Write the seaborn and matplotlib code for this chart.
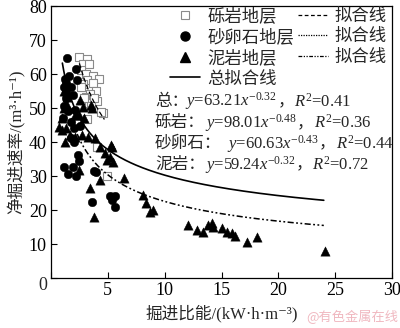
import numpy as np
import pandas as pd
import matplotlib
matplotlib.use("Agg")
import matplotlib.pyplot as plt
from matplotlib.lines import Line2D
import seaborn as sns

# ---------------- data ----------------
gravel_x = [2.49, 3.19, 2.84, 3.37, 2.67, 3.08, 3.67, 4.19, 3.19, 2.84, 3.67, 3.96, 3.43, 3.08,
            3.72, 3.31, 4.02, 3.55, 4.54, 2.67, 3.14, 4.07, 4.90, 2.93, 3.81, 4.40]
gravel_y = [64.9, 64.3, 62.9, 62.9, 61.2, 60.0, 59.4, 58.4, 58.2, 57.1, 57.3, 55.1, 54.1, 53.1,
            52.7, 51.6, 52.1, 50.6, 48.6, 56.1, 46.9, 38.6, 30.0, 52.9, 52.9, 48.9]

sand_x = [1.38, 2.20, 1.32, 2.31, 1.17, 1.32, 1.76, 1.91, 1.32, 1.10, 1.50, 1.03, 1.76, 2.05,
          2.11, 1.76, 2.05, 2.55, 2.35, 1.17, 1.52, 1.91, 2.20, 2.49, 3.81, 3.58, 5.19, 5.63,
          5.34, 5.63, 3.96, 1.20, 1.60]
sand_y = [64.6, 61.4, 57.3, 58.2, 56.3, 54.8, 56.3, 53.8, 52.9, 50.5, 49.0, 47.0, 46.0, 44.0,
          49.4, 41.1, 40.1, 44.7, 36.2, 32.7, 30.6, 32.6, 30.0, 34.5, 31.5, 22.3, 24.1, 24.1,
          22.9, 21.0, 31.3, 58.5, 59.5]

mud_x = [0.73, 0.94, 0.94, 1.17, 1.23, 1.32, 1.38, 1.67, 2.11, 2.11, 2.49, 2.55, 2.84, 2.93,
         3.52, 3.58, 2.70, 3.28, 3.87, 4.31, 4.75, 5.34, 5.28, 4.90, 5.48, 5.19, 2.49, 3.43,
         4.31, 3.81, 6.42, 8.12, 8.33, 8.71, 9.00, 12.08, 12.81, 13.40, 13.84, 14.13, 14.27,
         15.01, 15.50, 15.90, 16.18, 17.21, 18.09, 24.10, 1.10, 1.30]
mud_y = [44.5, 47.0, 43.5, 49.9, 40.1, 44.0, 53.3, 42.1, 47.9, 41.6, 47.9, 52.4, 50.4, 47.0,
         50.9, 49.9, 42.1, 41.6, 41.1, 38.6, 36.7, 38.6, 39.1, 34.7, 34.2, 35.7, 31.8, 26.4,
         28.8, 17.9, 29.3, 24.4, 22.0, 19.5, 20.0, 15.6, 14.1, 13.6, 15.6, 16.1, 15.1,
         14.6, 13.6, 13.1, 12.4, 10.7, 12.1, 8.0, 55.0, 51.5]

# fitted power curves y = a * x^b (coefficients as printed in the chart)
fit_names = ["总：", "砾岩：", "砂卵石：", "泥岩："]
fit_a = [63.21, 98.01, 60.63, 59.24]
fit_b = [-0.32, -0.48, -0.43, -0.32]
fit_r2 = [0.41, 0.36, 0.44, 0.72]
# drawn extents of the visible curves
total_range = [1.0, 24.0]
gravel_range = [2.5, 4.7]
dashdot_range = [1.8, 24.0]

legend_labels = ["砾岩地层", "砂卵石地层", "泥岩地层", "总拟合线", "拟合线", "拟合线", "拟合线"]
x_ticks = [0, 5, 10, 15, 20, 25, 30]
y_ticks = [0, 10, 20, 30, 40, 50, 60, 70, 80]
x_label = "掘进比能/(kW·h·m⁻³)"
y_label = "净掘进速率/(m³·h⁻¹)"

# ---------------- style ----------------
sns.set_style("ticks")
FAM = ["Liberation Serif", "Noto Sans CJK SC", "DejaVu Sans"]
plt.rcParams["font.family"] = FAM
plt.rcParams["mathtext.fontset"] = "custom"
plt.rcParams["mathtext.rm"] = "Liberation Serif"
plt.rcParams["mathtext.it"] = "Liberation Serif:italic"
plt.rcParams["axes.unicode_minus"] = False

fig = plt.figure(figsize=(4.0, 3.28), dpi=100)
ax = fig.add_axes([0.1275, 0.1524, 0.8525, 0.8293])

# scatter
sns.scatterplot(x=gravel_x, y=gravel_y, ax=ax, marker="s", s=30, color="white",
                edgecolor="#8a8a8a", linewidth=0.8, zorder=3)
sns.scatterplot(x=sand_x, y=sand_y, ax=ax, marker="o", s=38, color="black",
                edgecolor="black", linewidth=0.3, zorder=4)
sns.scatterplot(x=mud_x, y=mud_y, ax=ax, marker="^", s=45, color="black",
                edgecolor="black", linewidth=0.3, zorder=5)

# fit lines
def curve(a, b, rng):
    xs = np.linspace(rng[0], rng[1], 200)
    return xs, a * xs ** b

xs, ys = curve(fit_a[0], fit_b[0], total_range)
sns.lineplot(x=xs, y=ys, ax=ax, color="black", lw=1.2, sort=False, estimator=None, zorder=6)
xs, ys = curve(fit_a[1], fit_b[1], gravel_range)
sns.lineplot(x=xs, y=ys, ax=ax, color="black", lw=0.9, sort=False, estimator=None, zorder=6)
ax.lines[-1].set_dashes((4, 2))
xs, ys = curve(fit_a[2], fit_b[2], dashdot_range)
sns.lineplot(x=xs, y=ys, ax=ax, color="black", lw=1.1, sort=False, estimator=None, zorder=6)
ax.lines[-1].set_dashes((4, 1.6, 1.2, 1.6, 1.2, 1.6))

ax.set_xlim(0, 30)
ax.set_ylim(0, 80)
ax.set_xticks(x_ticks)
ax.set_xticklabels([""] + [str(t) for t in x_ticks[1:]])
ax.set_yticks(y_ticks)
ax.set_yticklabels([""] + [str(t) for t in y_ticks[1:]])
ax.tick_params(direction="in", length=4, width=0.8, labelsize=13, pad=3, colors="black")
for sp in ax.spines.values():
    sp.set_linewidth(0.9)
    sp.set_color("black")
    sp.set_visible(True)

ax.set_xlabel(x_label, fontsize=12, labelpad=4)
ax.set_ylabel(y_label, fontsize=12, labelpad=2)

# legend
handles = [
    Line2D([], [], ls="none", marker="s", ms=6, mfc="white", mec="#8a8a8a", mew=0.8),
    Line2D([], [], ls="none", marker="o", ms=6.5, mfc="black", mec="black"),
    Line2D([], [], ls="none", marker="^", ms=7, mfc="black", mec="black"),
    Line2D([], [], color="black", lw=1.2),
    Line2D([], [], color="black", lw=0.9, dashes=(3, 2)),
    Line2D([], [], color="black", lw=0.9, dashes=(1, 1)),
    Line2D([], [], color="black", lw=0.9, dashes=(3, 1.2, 1, 1.2, 1, 1.2)),
]
leg = ax.legend(handles, legend_labels, ncol=2, loc="upper left",
                bbox_to_anchor=((170 - 51) / 341, (278 - 8) / 272),
                frameon=False, fontsize=12.5, handlelength=1.75, handletextpad=0.4,
                columnspacing=0.2, labelspacing=0.24, borderpad=0, borderaxespad=0)

# equations: CJK prefix as plain text, formula as mathtext attached to its right
eq_y = [51.9, 45.6, 39.5, 33.3]
eq_shift = [-2, 0, 4, 0]   # horizontal nudge of formula after prefix (points)
for name, a, b, r2, yy, dx in zip(fit_names, fit_a, fit_b, fit_r2, eq_y, eq_shift):
    t = ax.text(9.15, yy, name, fontsize=12, va="center", ha="left")
    f1 = ax.annotate(f"$y$={a:.2f}$x^{{{b:.2f}}}$", xy=(1, 0.5), xycoords=t,
                     xytext=(dx, 0), textcoords="offset points",
                     fontsize=12, va="center", ha="left")
    f2 = ax.annotate("，", xy=(1, 0.5), xycoords=f1, fontsize=12, va="center", ha="left")
    ax.annotate(f"$R^2$={r2:.2f}", xy=(1, 0.5), xycoords=f2, fontsize=12,
                va="center", ha="left")

fig.text(43 / 400, 1 - 286 / 328, "0", fontsize=13, ha="center", va="center")
fig.text(0.995, 0.035, "@有色金属在线", fontsize=9.5, color="#f0b8c0", ha="right", va="center",
         family=["Noto Sans CJK SC", "DejaVu Sans"])

fig.savefig("out.png", dpi=100)
